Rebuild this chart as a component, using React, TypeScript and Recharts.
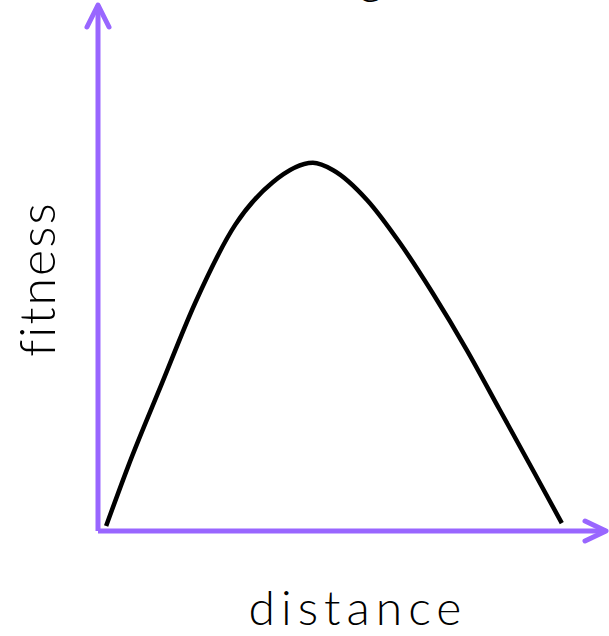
import { LineChart, Line, XAxis, YAxis, ReferenceDot, ReferenceLine } from "recharts";

// genetic distance (x) vs fitness (y), both on a 0-100 scale
const distance = [1.6, 5.9, 12.6, 19.1, 27.0, 34.4, 42.3, 46.3, 53.0, 59.4, 65.9, 72.6, 79.1, 85.6, 91.3];
const fitness = [0.95, 12.2, 28.1, 43.3, 58.2, 66.3, 70.0, 68.6, 62.9, 54.8, 45.2, 34.4, 23.0, 11.6, 1.5];

const xLabel = "distance";
const yLabel = "fitness";
const title = "outbreeding";

const data = distance.map((d, i) => ({ distance: d, fitness: fitness[i] }));

const PURPLE = "#9966FF";
const FONT = "Lato, 'DejaVu Sans', sans-serif";

const ArrowUp = (props: any) => {
  const { cx, cy } = props;
  return (
    <polyline
      points={`${cx - 11},${cy + 22} ${cx},${cy} ${cx + 11},${cy + 22}`}
      fill="none"
      stroke={PURPLE}
      strokeWidth={5}
      strokeLinecap="round"
      strokeLinejoin="round"
    />
  );
};

const ArrowRight = (props: any) => {
  const { cx, cy } = props;
  return (
    <polyline
      points={`${cx - 21},${cy - 10} ${cx},${cy} ${cx - 21},${cy + 10}`}
      fill="none"
      stroke={PURPLE}
      strokeWidth={5}
      strokeLinecap="round"
      strokeLinejoin="round"
    />
  );
};

const YTitle = (props: any) => {
  const { viewBox } = props;
  const x = 55;
  const y = viewBox.y + viewBox.height / 2 + 11;
  return (
    <g>
      <text
        x={x}
        y={y}
        transform={`rotate(-90, ${x}, ${y})`}
        textAnchor="middle"
        fontFamily={FONT}
        fontWeight={300}
        fontSize={50}
        letterSpacing={2}
        fill="#000"
      >
        {yLabel}
      </text>
      {/* title sits above the picture; only its descender shows */}
      <text x={383} y={-6} textAnchor="end" fontFamily={FONT} fontWeight={300} fontSize={48} fill="#000">
        {title}
      </text>
    </g>
  );
};

const XTitle = (props: any) => {
  const { viewBox } = props;
  return (
    <text
      x={viewBox.x + viewBox.width / 2 + 6}
      y={viewBox.y + 94}
      textAnchor="middle"
      fontFamily={FONT}
      fontWeight={300}
      fontSize={48}
      letterSpacing={6}
      fill="#000"
    >
      {xLabel}
    </text>
  );
};

export default function App() {
  return (
    <div style={{ position: "absolute", left: 0, top: 0, background: "#fff" }}>
      <LineChart
        width={609}
        height={636}
        data={data}
        margin={{ top: 5, right: 3, left: 98, bottom: 105 }}
      >
        <XAxis type="number" dataKey="distance" domain={[0, 100]} hide />
        <YAxis type="number" domain={[0, 100]} hide />
        <ReferenceLine
          x={0}
          stroke={PURPLE}
          strokeWidth={5}
          ifOverflow="visible"
          label={<YTitle />}
        />
        <ReferenceLine
          y={0}
          stroke={PURPLE}
          strokeWidth={5}
          ifOverflow="visible"
          label={<XTitle />}
        />
        <ReferenceDot x={0} y={100} ifOverflow="visible" shape={<ArrowUp />} />
        <ReferenceDot x={100} y={0} ifOverflow="visible" shape={<ArrowRight />} />
        <Line
          type="monotone"
          dataKey="fitness"
          stroke="#000"
          strokeWidth={4.5}
          dot={false}
          isAnimationActive={false}
        />
      </LineChart>
    </div>
  );
}
